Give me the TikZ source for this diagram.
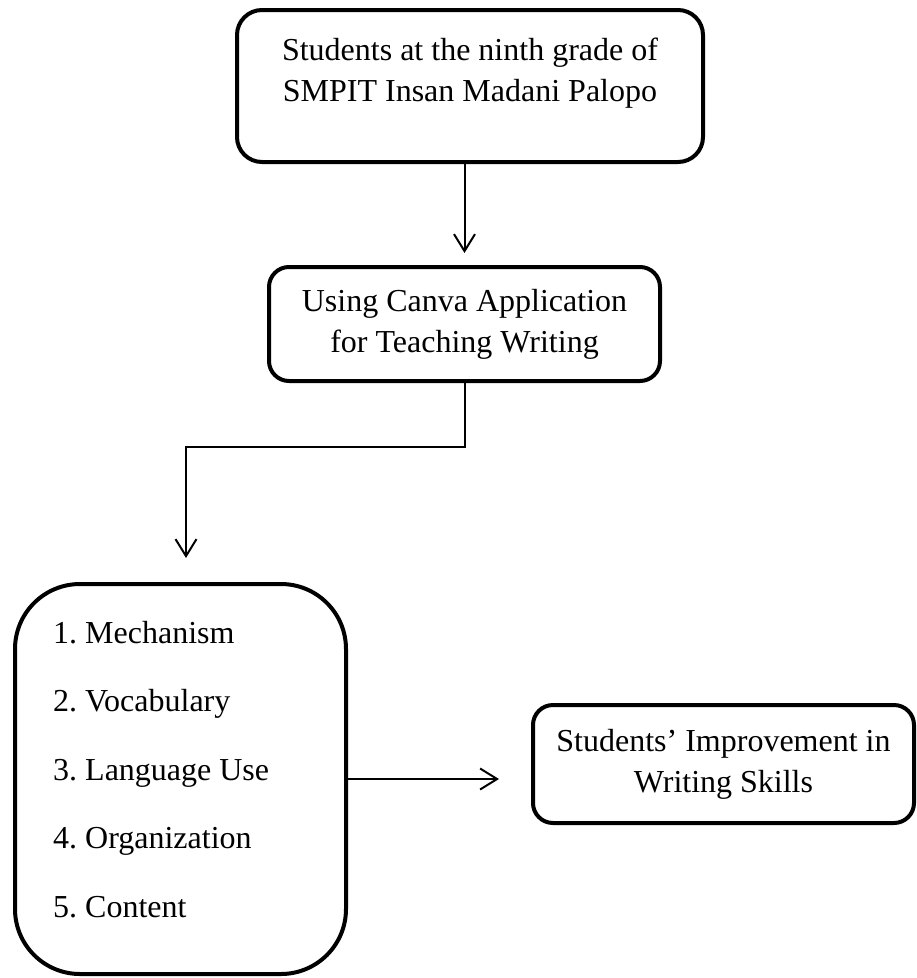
\documentclass[tikz,border=0pt]{standalone}
\usepackage{fontspec}
\setmainfont{Liberation Serif}
\usetikzlibrary{arrows.meta, positioning}
\tikzset{%
>={Straight Barb[width=21pt,length=17pt]},
  % Specifications for style of boxes and texts:
            card/.style = {draw=black, line width=4pt, rounded corners=20pt,
                            inner sep=0pt, align=center,
                            font=\fontsize{32}{41}\selectfont},
            word/.style = {inner sep=0pt, align=center,
                            font=\fontsize{32}{41}\selectfont\frenchspacing},
            conn/.style = {line width=2pt, ->}
}

\begin{document}
\begin{tikzpicture}[x=1pt, y=-1pt]
                        \useasboundingbox (0,0) rectangle (917,978);
                        \node[card, minimum width=466pt, minimum height=152pt, rounded corners=25pt] (students) at (470,86) {};
                        \node[word, yshift=12.5pt] (studentsText) at (students.center) {Students at the ninth grade of\\SMPIT Insan Madani Palopo};
                        \node[card, minimum width=391pt, minimum height=114pt] (canva) at (464.5,324) {Using Canva Application\\for Teaching Writing};
                        \node[card, minimum width=331pt, minimum height=390pt, rounded corners=65pt] (aspects) at (180.5,779) {};
                        \node[card, minimum width=381pt, minimum height=118pt] (improve) at (723.5,764) {Students' Improvement in\\Writing Skills};
                        \foreach \idx/\aspect in {1/Mechanism, 2/Vocabulary, 3/Language Use, 4/Organization, 5/Content}
                            \node[word, anchor=base west] (item\idx) at (53, {574.5+68.5*\idx}) {\idx. \aspect};
                        \coordinate (turn) at (186,447);
                        \draw[conn, shorten >=12pt] (students.south -| canva.north) -- (canva.north);
                        \draw[conn, shorten >=24pt] (canva.south) |- (turn) -- (turn |- aspects.north);
                        \draw[conn, shorten >=32pt] (aspects.east) -- (aspects.east -| improve.west);
                    \end{tikzpicture}
\end{document}
